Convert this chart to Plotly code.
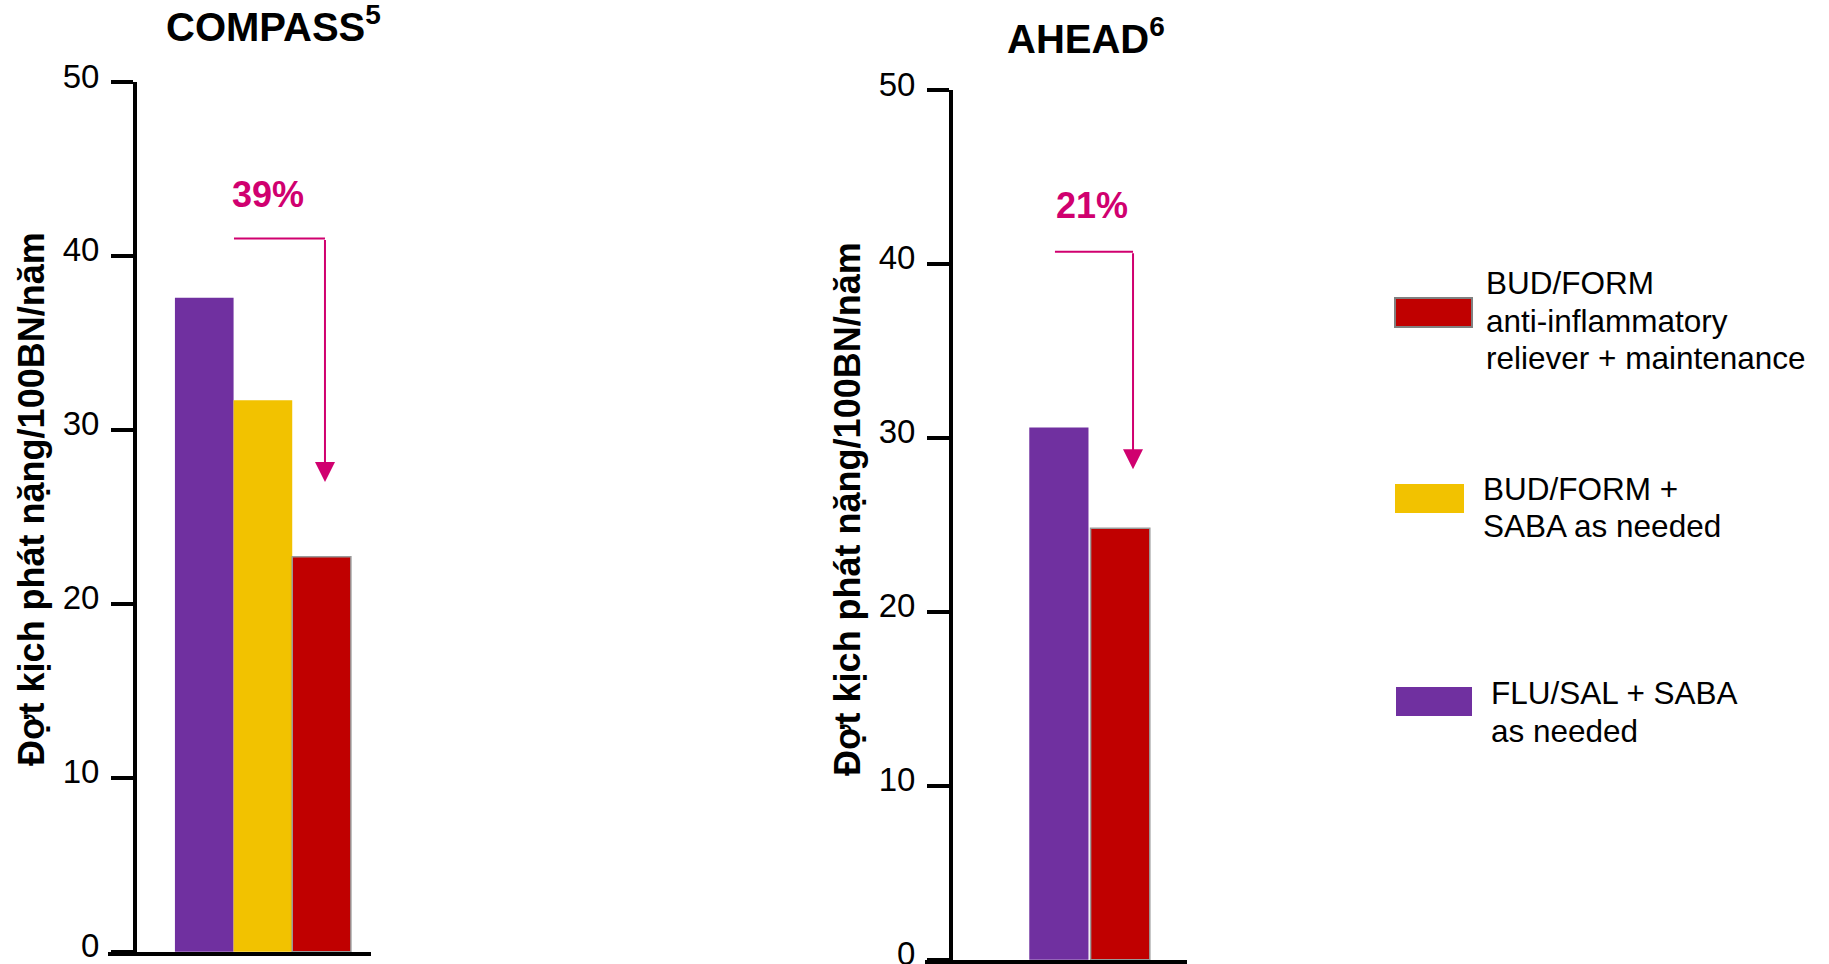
import plotly.graph_objects as go

# ---- data -------------------------------------------------------------
studies = ["COMPASS", "AHEAD"]
study_refs = ["5", "6"]

series_names = [
    "FLU/SAL + SABA as needed",
    "BUD/FORM + SABA as needed",
    "BUD/FORM anti-inflammatory reliever + maintenance",
]
# severe exacerbations per 100 patients per year
compass_values = [37.6, 31.7, 22.7]   # FLU/SAL, BUD/FORM+SABA, BUD/FORM AIR+M
ahead_values = [30.6, 24.8]           # FLU/SAL, BUD/FORM AIR+M

reductions = ["39%", "21%"]
y_ticks = [0, 10, 20, 30, 40, 50]
y_title = "Đợt kịch phát nặng/100BN/năm"

legend_lines = [
    ["BUD/FORM", "anti-inflammatory", "reliever + maintenance"],
    ["BUD/FORM +", "SABA as needed"],
    ["FLU/SAL + SABA", "as needed"],
]

# ---- styling ----------------------------------------------------------
W, H = 1829, 964
PURPLE = "#7030A0"
YELLOW = "#F2C200"
RED = "#C00000"
MAGENTA = "#D0006F"
FONT = "Liberation Sans, Arial, sans-serif"


def px(x):
    return x / W


def py(y):
    return 1 - y / H


fig = go.Figure()

# COMPASS bars
for name, val, col in zip(series_names, compass_values, [PURPLE, YELLOW, RED]):
    fig.add_trace(go.Bar(
        x=[studies[0]], y=[val], name=name, xaxis="x", yaxis="y",
        marker=dict(color=col,
                    line=dict(color="#9a9a9a" if col == RED else col,
                              width=1.5 if col == RED else 0)),
        showlegend=False, hoverinfo="y",
    ))

# AHEAD bars (a thin white gap separates the two bars)
for name, val, col, off in zip([series_names[0], series_names[2]], ahead_values,
                               [PURPLE, RED], [-0.230, 0.004]):
    fig.add_trace(go.Bar(
        x=[studies[1]], y=[val], name=name, xaxis="x2", yaxis="y2",
        width=0.226, offset=off,
        marker=dict(color=col,
                    line=dict(color="#9a9a9a" if col == RED else col,
                              width=1.5 if col == RED else 0)),
        showlegend=False, hoverinfo="y",
    ))

yaxis_common = dict(
    range=[-0.02, 50], tickvals=y_ticks, showline=True, linecolor="black",
    linewidth=4, ticks="outside", ticklen=22, tickwidth=4, tickcolor="black",
    showgrid=False, zeroline=False, anchor="free",
    tickfont=dict(family=FONT, size=33, color="black"),
    ticklabelstandoff=5, ticklabelshift=-6, ticklabeloverflow="allow",
    fixedrange=True,
)
xaxis_common = dict(
    showline=True, linecolor="black", linewidth=4, ticks="",
    showticklabels=False, showgrid=False, zeroline=False, type="category",
    fixedrange=True,
)

fig.update_layout(
    width=W, height=H, margin=dict(l=0, r=0, t=0, b=0, autoexpand=False),
    paper_bgcolor="white", plot_bgcolor="white",
    font=dict(family=FONT, color="black"),
    barmode="group", bargroupgap=0, bargap=0.331,
    xaxis=dict(xaxis_common, domain=[px(108), px(371)], anchor="y",
               range=[-0.589, 0.411]),
    yaxis=dict(yaxis_common, domain=[py(952), py(82)], position=px(135)),
    xaxis2=dict(xaxis_common, domain=[px(925), px(1187)], anchor="y2",
                range=[-0.628, 0.372]),
    yaxis2=dict(yaxis_common, domain=[py(960), py(90)], position=px(951)),
)

annotations = []
shapes = []


def paper_text(text, x, y, size, color="black", bold=False, angle=0,
               xanchor="center"):
    return dict(text=f"<b>{text}</b>" if bold else text,
                x=px(x), y=py(y), xref="paper", yref="paper",
                xanchor=xanchor, yanchor="middle", textangle=angle,
                showarrow=False, font=dict(size=size, family=FONT, color=color))


# chart titles
annotations.append(paper_text(f"{studies[0]}<sup>{study_refs[0]}</sup>", 273, 24, 40, bold=True))
annotations.append(paper_text(f"{studies[1]}<sup>{study_refs[1]}</sup>", 1086, 36, 40, bold=True))

# y-axis titles
for xc, yc in [(31, 499), (847, 509)]:
    annotations.append(paper_text(y_title, xc, yc, 36, bold=True, angle=-90))

# reduction brackets: horizontal bar + downward arrow
brackets = [
    # xref, yref, x_start, x_arrow, top value, tip value, label pos
    ("x", "y", -0.110, 0.236, 41.0, 27.0, (268, 195)),
    ("x2", "y2", -0.132, 0.166, 40.7, 28.2, (1092, 205)),
]
for (xr, yr, xs, xa, top, tip, (lx, ly)), lab in zip(brackets, reductions):
    shapes.append(dict(type="line", xref=xr, yref=yr, x0=xs, x1=xa,
                       y0=top, y1=top, line=dict(color=MAGENTA, width=2)))
    annotations.append(dict(x=xa, y=tip, ax=xa, ay=top, xref=xr, yref=yr,
                            axref=xr, ayref=yr, text="", showarrow=True,
                            arrowhead=2, arrowsize=2, arrowwidth=2,
                            arrowcolor=MAGENTA, standoff=0))
    annotations.append(paper_text(lab, lx, ly, 36, color=MAGENTA, bold=True))

# legend: swatches and labels
swatches = [
    (RED, 1395, 1472, 298, 327, "#808080"),
    (YELLOW, 1395, 1464, 484, 513, None),
    (PURPLE, 1396, 1472, 687, 716, None),
]
label_pos = [
    (1484, [283, 321, 358]),
    (1481, [489, 526]),
    (1489, [693, 731]),
]
for (col, x0, x1, y0, y1, edge), (tx, ys), lines in zip(swatches, label_pos, legend_lines):
    shapes.append(dict(type="rect", xref="paper", yref="paper",
                       x0=px(x0), x1=px(x1), y0=py(y1), y1=py(y0),
                       fillcolor=col,
                       line=dict(color=edge if edge else col, width=2 if edge else 0)))
    for line_text, yy in zip(lines, ys):
        annotations.append(paper_text(line_text, tx, yy, 31.5, xanchor="left"))

fig.update_layout(annotations=annotations, shapes=shapes)

fig.write_html("out.html", config={"displayModeBar": False})
